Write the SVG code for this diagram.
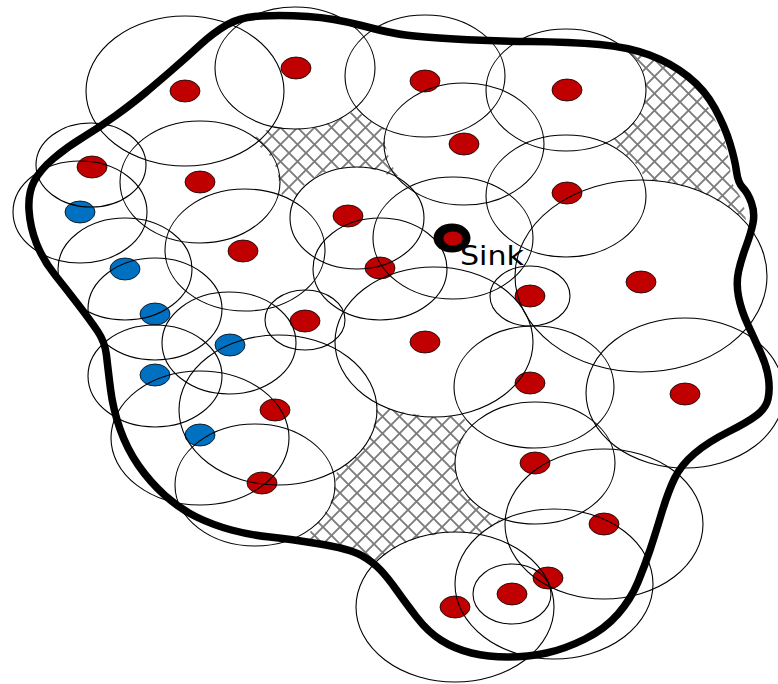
<svg xmlns="http://www.w3.org/2000/svg" width="778" height="684" viewBox="0 0 778 684">
  <defs>
    <!-- diamond lattice used for the uncovered holes -->
    <pattern id="hatch" width="17" height="17" patternUnits="userSpaceOnUse">
      <path d="M-2,-2 L19,19 M19,-2 L-2,19" stroke="#7c7c7c" stroke-width="1.9" fill="none"/>
    </pattern>
  </defs>
  <style>
    .hole { fill: url(#hatch); stroke: none; }
    .range { fill: none; stroke: #000; stroke-width: 1.1; }
    .red { fill: #c00000; stroke: #000; stroke-width: 0.8; }
    .blue { fill: #0070c0; stroke: #000; stroke-width: 0.8; }
    .border { fill: none; stroke: #000; stroke-width: 7.5; stroke-linejoin: round; }
    .label { font-family: "DejaVu Sans", "Liberation Sans", sans-serif; font-size: 27px; fill: #000; }
  </style>

  <rect width="778" height="684" fill="#fff"/>

  <!-- coverage holes -->
  <g id="holes">
    <path class="hole" d="M250,142 L262,132 L275,127 L295,129 L315,127 L335,121 L350,113 L356,110 L365,117 L375,124 L384,128 L385,144 L389,158 L395,172 L400,176 L390,176 L380,171 L365,168 L350,167 L335,169 L320,174 L305,184 L296,196 L282,196 L279,182 L277,170 L272,158 L262,148 Z"/>
    <path class="hole" d="M620,48 L640,50 L660,57 L680,67 L697,88 L711,112 L724,137 L729,160 L732,183 L740,196 L745,210 L746,222 L730,208 L700,191 L670,182 L645,180 L640,168 L630,158 L618,150 L612,140 L625,130 L636,120 L644,105 L646,90 L643,72 L636,60 L628,52 Z"/>
    <path class="hole" d="M377,405 L400,412 L434,417 L450,416 L463,414 L468,430 L462,440 L457,452 L455,463 L457,478 L464,492 L473,502 L487,512 L500,520 L490,528 L480,534 L455,532 L420,537 L400,545 L385,555 L376,562 L350,549 L320,542 L298,538 L310,532 L320,520 L330,505 L335,485 L337,471 L352,460 L362,450 L373,430 Z"/>
  </g>

  <!-- sensor nodes -->
  <g id="nodes">
    <g id="node-r1"><ellipse class="red" cx="185" cy="91" rx="15" ry="11"/></g>
    <g id="node-r2"><ellipse class="red" cx="296" cy="68" rx="15" ry="11"/></g>
    <g id="node-r3"><ellipse class="red" cx="425" cy="81" rx="15" ry="11"/></g>
    <g id="node-r4"><ellipse class="red" cx="567" cy="90" rx="15" ry="11"/></g>
    <g id="node-r5"><ellipse class="red" cx="464" cy="144" rx="15" ry="11"/></g>
    <g id="node-r6"><ellipse class="red" cx="92" cy="167" rx="15" ry="11"/></g>
    <g id="node-r7"><ellipse class="red" cx="200" cy="182" rx="15" ry="11"/></g>
    <g id="node-r8"><ellipse class="red" cx="567" cy="193" rx="15" ry="11"/></g>
    <g id="node-r9"><ellipse class="red" cx="348" cy="216" rx="15" ry="11"/></g>
    <g id="node-r10"><ellipse class="red" cx="243" cy="251" rx="15" ry="11"/></g>
    <g id="node-r11"><ellipse class="red" cx="380" cy="268" rx="15" ry="11"/></g>
    <g id="node-r12"><ellipse class="red" cx="641" cy="282" rx="15" ry="11"/></g>
    <g id="node-r13"><ellipse class="red" cx="530" cy="296" rx="15" ry="11"/></g>
    <g id="node-r14"><ellipse class="red" cx="305" cy="321" rx="15" ry="11"/></g>
    <g id="node-r15"><ellipse class="red" cx="425" cy="342" rx="15" ry="11"/></g>
    <g id="node-r16"><ellipse class="red" cx="530" cy="383" rx="15" ry="11"/></g>
    <g id="node-r17"><ellipse class="red" cx="685" cy="394" rx="15" ry="11"/></g>
    <g id="node-r18"><ellipse class="red" cx="275" cy="410" rx="15" ry="11"/></g>
    <g id="node-r19"><ellipse class="red" cx="535" cy="463" rx="15" ry="11"/></g>
    <g id="node-r20"><ellipse class="red" cx="262" cy="483" rx="15" ry="11"/></g>
    <g id="node-r21"><ellipse class="red" cx="604" cy="524" rx="15" ry="11"/></g>
    <g id="node-r22"><ellipse class="red" cx="548" cy="578" rx="15" ry="11"/></g>
    <g id="node-r23"><ellipse class="red" cx="512" cy="594" rx="15" ry="11"/></g>
    <g id="node-r24"><ellipse class="red" cx="455" cy="607" rx="15" ry="11"/></g>
    <g id="node-b1"><ellipse class="blue" cx="80" cy="212" rx="15" ry="11"/></g>
    <g id="node-b2"><ellipse class="blue" cx="125" cy="269" rx="15" ry="11"/></g>
    <g id="node-b3"><ellipse class="blue" cx="155" cy="314" rx="15" ry="11"/></g>
    <g id="node-b4"><ellipse class="blue" cx="230" cy="345" rx="15" ry="11"/></g>
    <g id="node-b5"><ellipse class="blue" cx="155" cy="375" rx="15" ry="11"/></g>
    <g id="node-b6"><ellipse class="blue" cx="200" cy="435" rx="15" ry="11"/></g>
  </g>

  <!-- sensing ranges -->
  <g id="ranges">
    <ellipse class="range" cx="185" cy="91" rx="99" ry="75"/>
    <ellipse class="range" cx="295" cy="68" rx="80" ry="61"/>
    <ellipse class="range" cx="425" cy="76" rx="80" ry="61"/>
    <ellipse class="range" cx="566" cy="90" rx="80" ry="61"/>
    <ellipse class="range" cx="464" cy="144" rx="80" ry="61"/>
    <ellipse class="range" cx="566" cy="196" rx="80" ry="61"/>
    <ellipse class="range" cx="641" cy="276" rx="126" ry="96"/>
    <ellipse class="range" cx="453" cy="238" rx="80" ry="61"/>
    <ellipse class="range" cx="357" cy="218" rx="67" ry="51"/>
    <ellipse class="range" cx="380" cy="269" rx="67" ry="51"/>
    <ellipse class="range" cx="434" cy="342" rx="99" ry="75"/>
    <ellipse class="range" cx="530" cy="296" rx="40" ry="30"/>
    <ellipse class="range" cx="534" cy="387" rx="80" ry="61"/>
    <ellipse class="range" cx="685" cy="393" rx="99" ry="75"/>
    <ellipse class="range" cx="535" cy="463" rx="80" ry="61"/>
    <ellipse class="range" cx="604" cy="524" rx="99" ry="75"/>
    <ellipse class="range" cx="554" cy="584" rx="99" ry="75"/>
    <ellipse class="range" cx="512" cy="594" rx="39" ry="30"/>
    <ellipse class="range" cx="455" cy="607" rx="99" ry="75"/>
    <ellipse class="range" cx="278" cy="410" rx="99" ry="75"/>
    <ellipse class="range" cx="91" cy="165" rx="55" ry="42"/>
    <ellipse class="range" cx="80" cy="212" rx="67" ry="51"/>
    <ellipse class="range" cx="200" cy="182" rx="80" ry="61"/>
    <ellipse class="range" cx="245" cy="250" rx="80" ry="61"/>
    <ellipse class="range" cx="125" cy="269" rx="67" ry="51"/>
    <ellipse class="range" cx="155" cy="309" rx="67" ry="51"/>
    <ellipse class="range" cx="229" cy="343" rx="67" ry="51"/>
    <ellipse class="range" cx="305" cy="320" rx="40" ry="30"/>
    <ellipse class="range" cx="155" cy="376" rx="67" ry="51"/>
    <ellipse class="range" cx="200" cy="438" rx="89" ry="67"/>
    <ellipse class="range" cx="255" cy="485" rx="80" ry="61"/>
  </g>

  <!-- field boundary -->
  <g id="field">
    <path class="border" d="M226.5,25 Q240,17 261.5,16 Q283,15 308,16.5 Q333,18 361.5,25.5 Q390,33 405.5,35 Q421,37 454.5,39 Q488,41 529.5,41.5 Q571,42 599.5,44.5 Q628,47 649.5,55 Q671,63 688,76.5 Q705,90 715,108.5 Q725,127 730,143.5 Q735,160 736.5,171.5 Q738,183 743,188 Q748,193 751.5,203 Q755,213 753,223 Q751,233 746,246.5 Q741,260 738.5,271.5 Q736,283 738.5,296.5 Q741,310 748,325 Q755,340 761,353.5 Q767,367 768.5,378.5 Q770,390 768,399 Q766,408 757,415 Q748,422 728,432 Q708,442 694.5,453.5 Q681,465 674.5,478.5 Q668,492 661.5,513.5 Q655,535 650,550 Q645,565 638,582 Q631,599 618,614 Q605,629 585,639 Q565,649 546.5,653 Q528,657 508,657 Q488,657 471.5,653 Q455,649 441.5,640.5 Q428,632 416.5,617 Q405,602 396.5,590 Q388,578 380.5,570 Q373,562 361.5,555.5 Q350,549 320,544 Q290,539 270,537 Q250,535 231.5,530 Q213,525 196.5,517 Q180,509 165,495.5 Q150,482 138.5,465.5 Q127,449 120,429 Q113,409 110.5,389 Q108,369 106.5,355.5 Q105,342 97.5,331 Q90,320 78.5,305 Q67,290 55,275 Q43,260 36.5,243.5 Q30,227 29,210 Q28,193 34,181.5 Q40,170 53.5,158.5 Q67,147 83.5,137 Q100,127 116.5,115 Q133,103 145,93 Q157,83 172,70 Q187,57 200,45 Q213,33 226.5,25 Z"/>
  </g>

  <!-- sink node -->
  <g id="sink">
    <ellipse cx="452" cy="238" rx="18.5" ry="14.5" fill="#000"/>
    <ellipse class="red" cx="453" cy="238.5" rx="10" ry="7.5"/>
    <text class="label" x="460" y="265" textLength="64" lengthAdjust="spacingAndGlyphs">Sink</text>
  </g>
</svg>
